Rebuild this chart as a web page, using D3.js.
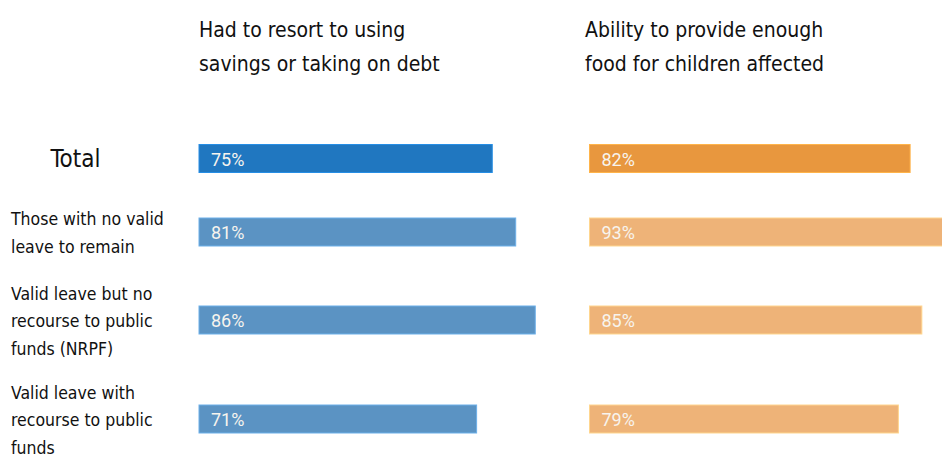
<!DOCTYPE html>
<html>
<head>
<meta charset="utf-8">
<script src="https://cdn.jsdelivr.net/npm/d3@7"></script>
<style>
  body { margin: 0; background: #fff; }
  svg { display: block; }
  .ttl, .cat { font-family: "Liberation Sans Narrow", "DejaVu Sans Condensed", sans-serif; fill: #111; }
  .val { font-family: Roboto, sans-serif; fill: #f7f4ee; }
</style>
</head>
<body>
<div id="chart"></div>
<script>
// categories, one per row
const categories = [
  "Total",
  "Those with no valid leave to remain",
  "Valid leave but no recourse to public funds (NRPF)",
  "Valid leave with recourse to public funds"
];
// wrapped label lines for the categories
const categoryLines = [
  ["Total"],
  ["Those with no valid", "leave to remain"],
  ["Valid leave but no", "recourse to public", "funds (NRPF)"],
  ["Valid leave with", "recourse to public", "funds"]
];
const panelTitles = [
  ["Had to resort to using", "savings or taking on debt"],
  ["Ability to provide enough", "food for children affected"]
];
// percent values for each panel
const savingsDebt = [75, 81, 86, 71];
const enoughFood = [82, 93, 85, 79];

const width = 942, height = 456;
const svg = d3.select("#chart").append("svg")
  .attr("width", width)
  .attr("height", height);

// rows are not evenly spaced in the original, so map each row to its center
const y = d3.scaleOrdinal()
  .domain(categories)
  .range([158.5, 232, 320, 419]);
const barH = 28;

const x = d3.scaleLinear().domain([0, 100]).range([0, 391]);

const panels = [
  { x0: 199, titleX: 199, values: savingsDebt, colors: ["#2077c0", "#5b93c3"] },
  { x0: 589.5, titleX: 585, values: enoughFood, colors: ["#e8973e", "#eeb378"] }
];

panels.forEach((p, pi) => {
  const g = svg.append("g").attr("transform", "translate(" + p.x0 + ",0)");

  svg.append("text")
    .attr("class", "ttl")
    .attr("x", p.titleX)
    .attr("y", 37)
    .style("font-size", "21px")
    .selectAll("tspan")
    .data(panelTitles[pi])
    .enter()
    .append("tspan")
    .attr("x", p.titleX)
    .attr("dy", (d, i) => i === 0 ? 0 : 34)
    .text(d => d);

  g.selectAll("rect")
    .data(p.values)
    .enter()
    .append("rect")
    .attr("x", 0)
    .attr("y", (d, i) => y(categories[i]) - barH / 2)
    .attr("width", d => x(d))
    .attr("height", barH)
    .attr("fill", (d, i) => i === 0 ? p.colors[0] : p.colors[1])
    .attr("stroke", (d, i) => d3.color(i === 0 ? p.colors[0] : p.colors[1]).brighter(0.5))
    .attr("stroke-width", 1);

  g.selectAll("text.val")
    .data(p.values)
    .enter()
    .append("text")
    .attr("class", "val")
    .attr("x", 12)
    .attr("y", (d, i) => y(categories[i]) + 7)
    .style("font-size", "18px")
    .text(d => d + "%");
});

// category labels
categories.forEach((c, i) => {
  const lines = categoryLines[i];
  const t = svg.append("text").attr("class", "cat");
  if (i === 0) {
    t.attr("x", 75.5).attr("y", y(c) + 8)
      .attr("text-anchor", "middle")
      .style("font-size", "24px")
      .text(lines[0]);
    return;
  }
  const first = y(c) + 7 - (lines.length - 1) * 27.5 / 2;
  t.style("font-size", "17.5px")
    .selectAll("tspan")
    .data(lines)
    .enter()
    .append("tspan")
    .attr("x", 11)
    .attr("y", (d, j) => first + j * 27.5)
    .text(d => d);
});
</script>
</body>
</html>
